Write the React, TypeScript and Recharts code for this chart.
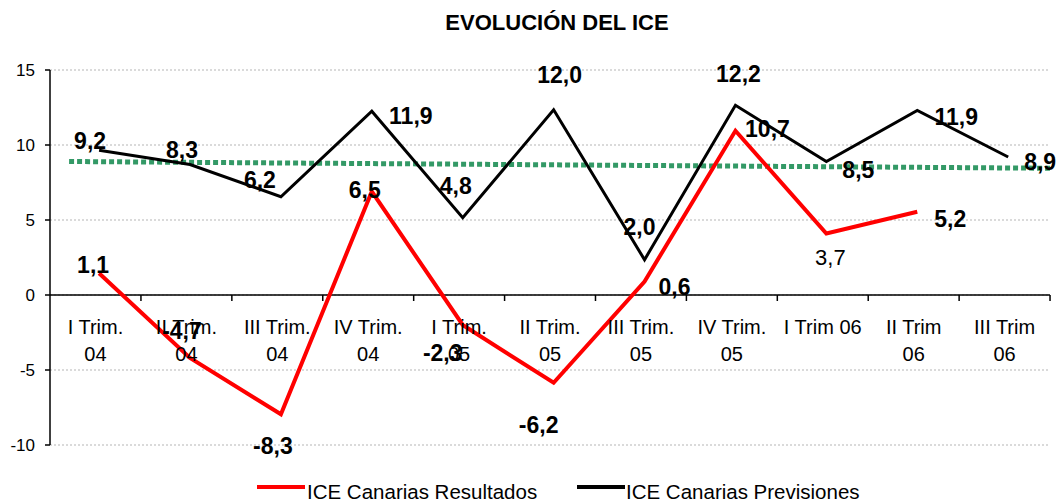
import React from 'react';
import { LineChart, Line, XAxis, YAxis, CartesianGrid, ReferenceLine, LabelList } from 'recharts';

// category names (two lines where the original wraps)
const categories = [
    'I Trim.\n04', 'II Trim.\n04', 'III Trim.\n04', 'IV Trim.\n04',
    'I Trim.\n05', 'II Trim.\n05', 'III Trim.\n05', 'IV Trim.\n05',
    'I Trim 06', 'II Trim\n06', 'III Trim\n06',
];

// values as drawn in the picture
const resultados = [1.45, -4.2, -7.95, 6.9, -2.0, -5.85, 0.9, 10.95, 4.1, 5.55, null];
const previsiones = [9.65, 8.7, 6.55, 12.25, 5.15, 12.35, 2.35, 12.65, 8.9, 12.3, 9.2];

// data label texts as printed
const resultadosLabels = ['1,1', '-4,7', '-8,3', '6,5', '-2,3', '-6,2', '0,6', '10,7', '3,7', '5,2', null];
const previsionesLabels = ['9,2', '8,3', '6,2', '11,9', '4,8', '12,0', '2,0', '12,2', '8,5', '11,9', '8,9'];

// trend line (start / end)
const tendenciaX = [-0.33, 10.46];
const tendencia = [8.9, 8.45];

const yTicks = [-10, -5, 0, 5, 10, 15];
const xTicks = categories.map((c, i) => i);

// label placement relative to each point
const resultadosOffsets = [[-6, -8], [-8, -27], [-8, 32], [-7, -2], [-20, 28], [-15, 42], [30, 5], [32, -2], [4, 24], [33, 7], [0, 0]];
const resultadosBold = [true, true, true, true, true, true, true, true, false, true, true];
const previsionesOffsets = [[-9, -9], [-8, -15], [-21, -17], [39, 5], [-7, -32], [6, -35], [-5, -33], [3, -31], [32, 8], [39, 6], [32, 5]];

const W = 1056;
const H = 502;
const TOP = 70;
const BOTTOM = 56;
const X_AXIS_H = 1;
const LEFT = 50;
const RIGHT = 6;
const Y_MIN = -10;
const Y_MAX = 15;
const X_DOMAIN: [number, number] = [-0.54, 10.46];
const BAND = (W - LEFT - RIGHT) / (X_DOMAIN[1] - X_DOMAIN[0]);
const SHIFT = 3.6; // points sit a bit right of the category centre
const ZERO_Y = TOP + (H - TOP - BOTTOM - X_AXIS_H) * (Y_MAX / (Y_MAX - Y_MIN));
const FONT = '"Liberation Sans", Arial, sans-serif';

const data = categories.map((c, i) => ({
    x: i,
    resultados: resultados[i],
    previsiones: previsiones[i],
}));
const trendData = tendenciaX.map((x, i) => ({ x, tendencia: tendencia[i] }));

const renderCategoryTick = (props: any) => {
    const { x, payload } = props;
    const cx = x - SHIFT;
    const lines = categories[payload.value].split('\n');
    return (
        <g>
            <line x1={cx + BAND / 2} x2={cx + BAND / 2} y1={ZERO_Y} y2={ZERO_Y + 6} stroke="#000" strokeWidth={1.5} />
            {lines.map((l, k) => (
                <text key={k} x={cx} y={ZERO_Y + 39 + k * 27} textAnchor="middle" fontSize={20} fontFamily={FONT} fill="#000">
                    {l}
                </text>
            ))}
        </g>
    );
};

const makeLabel = (texts: (string | null)[], offsets: number[][], bold?: boolean[]) => (props: any) => {
    const { x, y, index } = props;
    if (texts[index] == null || x == null || y == null) return null;
    const [dx, dy] = offsets[index];
    return (
        <text
            x={x + dx}
            y={y + dy}
            textAnchor="middle"
            dominantBaseline="central"
            fontSize={bold && !bold[index] ? 22 : 23}
            fontWeight={bold && !bold[index] ? 400 : 700}
            fontFamily={FONT}
            fill="#000"
        >
            {texts[index]}
        </text>
    );
};

export default function App() {
    return (
        <div style={{ position: 'absolute', left: 0, top: 0, width: W, height: H, background: '#fff', fontFamily: FONT }}>
            <div style={{ position: 'absolute', left: 0, top: 12, width: 1114, textAlign: 'center', fontSize: 22, fontWeight: 700, lineHeight: '22px' }}>
                EVOLUCIÓN DEL ICE
            </div>
            <LineChart width={W} height={H} data={data} margin={{ top: TOP, right: RIGHT, bottom: BOTTOM, left: 0 }} style={{ overflow: 'visible' }}>
                <CartesianGrid vertical={false} stroke="#b5b5b5" strokeDasharray="2 2" />
                <XAxis
                    dataKey="x"
                    type="number"
                    domain={X_DOMAIN}
                    ticks={xTicks}
                    interval={0}
                    allowDataOverflow
                    axisLine={false}
                    tickLine={false}
                    height={X_AXIS_H}
                    tick={renderCategoryTick}
                />
                <YAxis
                    domain={[Y_MIN, Y_MAX]}
                    ticks={yTicks}
                    interval={0}
                    width={LEFT}
                    axisLine={{ stroke: '#000', strokeWidth: 1.5 }}
                    tickLine={{ stroke: '#000', strokeWidth: 1.5 }}
                    tickSize={5}
                    tickMargin={10}
                    tick={{ fontSize: 17, fill: '#000', fontFamily: FONT }}
                />
                <ReferenceLine y={0} stroke="#000" strokeWidth={1.5} />
                <Line
                    data={trendData}
                    dataKey="tendencia"
                    stroke="#339966"
                    strokeWidth={5}
                    strokeDasharray="5 3"
                    dot={false}
                    isAnimationActive={false}
                    legendType="none"
                />
                <Line
                    dataKey="resultados"
                    stroke="#ff0000"
                    strokeWidth={4}
                    dot={false}
                    isAnimationActive={false}
                    name="ICE Canarias Resultados"
                >
                    <LabelList dataKey="resultados" content={makeLabel(resultadosLabels, resultadosOffsets, resultadosBold)} />
                </Line>
                <Line
                    dataKey="previsiones"
                    stroke="#000000"
                    strokeWidth={3}
                    dot={false}
                    isAnimationActive={false}
                    name="ICE Canarias Previsiones"
                >
                    <LabelList dataKey="previsiones" content={makeLabel(previsionesLabels, previsionesOffsets)} />
                </Line>
            </LineChart>
            <div style={{ position: 'absolute', top: 480, left: 0, width: W, height: 24, fontSize: 20.5, lineHeight: '24px' }}>
                <div style={{ position: 'absolute', left: 257, display: 'flex', alignItems: 'center' }}>
                    <span style={{ display: 'inline-block', width: 48, height: 4, background: '#ff0000', position: 'relative', top: -5 }} />
                    <span style={{ marginLeft: 2 }}>ICE Canarias Resultados</span>
                </div>
                <div style={{ position: 'absolute', left: 577, display: 'flex', alignItems: 'center' }}>
                    <span style={{ display: 'inline-block', width: 48, height: 4, background: '#000', position: 'relative', top: -5 }} />
                    <span style={{ marginLeft: 1 }}>ICE Canarias Previsiones</span>
                </div>
            </div>
        </div>
    );
}
